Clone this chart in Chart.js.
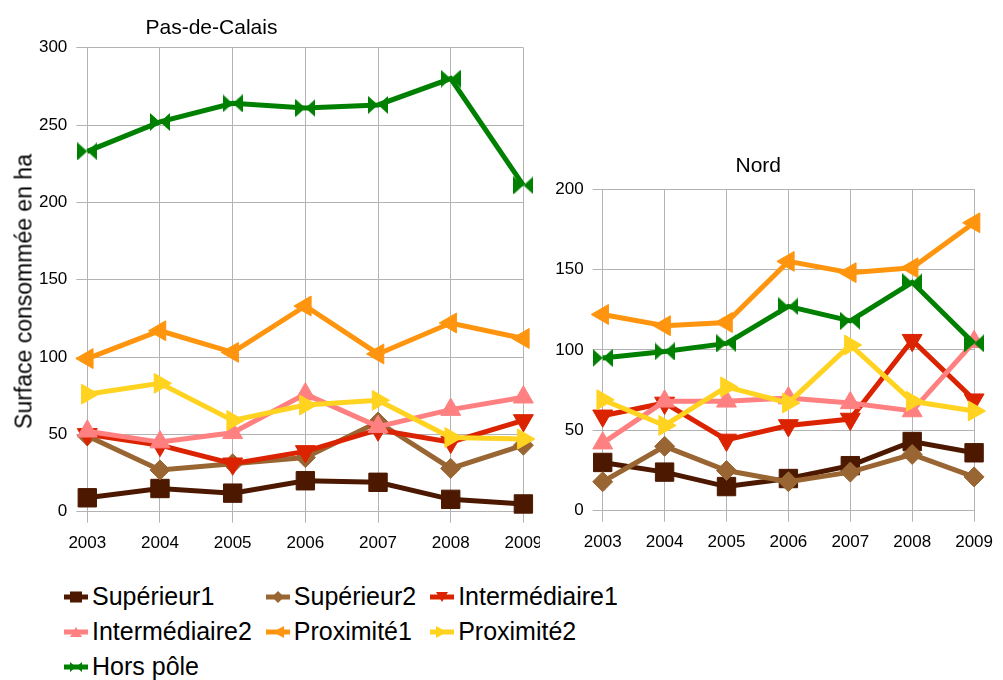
<!DOCTYPE html>
<html>
<head>
<meta charset="utf-8">
<script src="https://cdn.jsdelivr.net/npm/chart.js@4"></script>
<style>
body { margin: 0; background: #fff; font-family: 'Liberation Sans', Arial, sans-serif; color: #000; }
#page { position: relative; width: 1003px; height: 680px; overflow: hidden; }
.box { position: absolute; top: 0; height: 560px; overflow: hidden; }
.title { position: absolute; font-size: 21px; line-height: 1; white-space: nowrap; }
#ytitle { position: absolute; left: -136.3px; top: 279.5px; width: 320px; height: 23px;
  font-size: 23px; line-height: 23px; text-align: center; white-space: nowrap; transform: rotate(-90deg); }
#legend { position: absolute; left: 64px; top: 579px; display: grid;
  grid-template-columns: repeat(3, auto); column-gap: 14px; }
.item { display: flex; align-items: center; height: 35px; font-size: 25px; white-space: nowrap; }
.item svg { margin-right: 4px; }
</style>
</head>
<body>
<div id="page">
  <div class="box" style="left:0;width:540px;"><canvas id="pdc" width="560" height="560"></canvas></div>
  <div class="box" style="left:540px;width:463px;"><canvas id="nord" width="463" height="560"></canvas></div>
  <div class="title" style="left:145.5px;top:15.5px;">Pas-de-Calais</div>
  <div class="title" style="left:735.5px;top:153.9px;">Nord</div>
  <div id="ytitle">Surface consommée en ha</div>
  <div id="legend"></div>
</div>
<script>
// données
const years = ['2003', '2004', '2005', '2006', '2007', '2008', '2009'];
const seriesNames = ['Supérieur1', 'Supérieur2', 'Intermédiaire1', 'Intermédiaire2', 'Proximité1', 'Proximité2', 'Hors pôle'];
const seriesColors = ['#4c1900', '#996633', '#dc2300', '#ff8080', '#ff950e', '#ffd320', '#008000'];

// Pas-de-Calais
const pdcSuperieur1 = [9, 15, 12, 20, 19, 8, 5];
const pdcSuperieur2 = [49, 27, 31, 35, 58, 28, 43];
const pdcIntermediaire1 = [50, 43, 31, 39, 53, 45, 59];
const pdcIntermediaire2 = [52, 45, 51, 76, 55, 66, 74];
const pdcProximite1 = [99, 117, 103, 133, 102, 122, 112];
const pdcProximite2 = [76, 83, 59, 69, 72, 48, 47];
const pdcHorsPole = [233, 252, 264, 261, 263, 280, 211];

// Nord
const nordSuperieur1 = [30, 24, 15, 20, 28, 43, 36];
const nordSuperieur2 = [18, 40, 25, 18, 24, 35, 21];
const nordIntermediaire1 = [59, 67, 44, 53, 57, 106, 69];
const nordIntermediaire2 = [42, 68, 68, 70, 67, 62, 105];
const nordProximite1 = [122, 115, 117, 155, 148, 151, 179];
const nordProximite2 = [69, 53, 77, 67, 103, 68, 62];
const nordHorsPole = [95, 99, 104, 127, 118, 142, 104];

Chart.defaults.font.family = "'Liberation Sans', Arial, sans-serif";

// noeud papillon pour "Hors pôle"
function bowtie(color) {
    const c = document.createElement('canvas');
    c.width = 20; c.height = 18;
    const g = c.getContext('2d');
    g.fillStyle = color;
    g.beginPath();
    g.moveTo(0, 0); g.lineTo(10, 9); g.lineTo(0, 18); g.closePath();
    g.moveTo(20, 0); g.lineTo(10, 9); g.lineTo(20, 18); g.closePath();
    g.fill();
    return c;
}

const markers = [
    { style: 'rect', radius: 13, rotation: 0, key: 'rect' },
    { style: 'rectRot', radius: 10, rotation: 0, key: 'diamond' },
    { style: 'triangle', radius: 11.5, rotation: 180, key: 'down' },
    { style: 'triangle', radius: 11.5, rotation: 0, key: 'up' },
    { style: 'triangle', radius: 11.5, rotation: -90, key: 'left' },
    { style: 'triangle', radius: 11.5, rotation: 90, key: 'right' },
    { style: bowtie(seriesColors[6]), radius: 10, rotation: 0, key: 'bowtie' }
];

const grey = '#b3b3b3';

function makeChart(id, values, yMax, g) {
    return new Chart(document.getElementById(id), {
        type: 'line',
        data: {
            labels: years,
            datasets: values.map((v, i) => ({
                label: seriesNames[i],
                data: v,
                borderColor: seriesColors[i],
                backgroundColor: seriesColors[i],
                borderWidth: 5,
                tension: 0,
                pointStyle: markers[i].style,
                pointRadius: markers[i].radius,
                pointRotation: markers[i].rotation,
                pointBorderWidth: 1,
                pointBorderColor: seriesColors[i],
                pointBackgroundColor: seriesColors[i],
                clip: 20,
                order: values.length - i
            }))
        },
        options: {
            responsive: false,
            animation: false,
            events: [],
            layout: { padding: { left: 0, top: g.top, right: g.right, bottom: g.bottom } },
            plugins: { legend: { display: false }, tooltip: { enabled: false } },
            scales: {
                x: {
                    grid: { color: grey, tickColor: grey, tickLength: 11 },
                    border: { color: grey },
                    ticks: { color: '#000', font: { size: 17 }, padding: 10, maxRotation: 0, autoSkip: false },
                    afterFit: s => { s.height = 40; }
                },
                y: {
                    min: 0,
                    max: yMax,
                    grid: { color: grey, tickColor: grey, tickLength: g.tick },
                    border: { color: grey },
                    ticks: { color: '#000', font: { size: 17 }, padding: 9, stepSize: 50 },
                    afterFit: s => { s.width = g.axisW; }
                }
            }
        }
    });
}

makeChart('pdc',
    [pdcSuperieur1, pdcSuperieur2, pdcIntermediaire1, pdcIntermediaire2, pdcProximite1, pdcProximite2, pdcHorsPole],
    300, { top: 47.7, right: 36.6, bottom: 8.3, axisW: 87.3, tick: 11 });

makeChart('nord',
    [nordSuperieur1, nordSuperieur2, nordIntermediaire1, nordIntermediaire2, nordProximite1, nordProximite2, nordHorsPole],
    200, { top: 189, right: 22, bottom: 9.3, axisW: 62.7, tick: 10 });

// légende commune
const shapes = {
    rect: '<rect x="6" y="2.5" width="12" height="11"/>',
    diamond: '<polygon points="12,2 18,8 12,14 6,8"/>',
    down: '<polygon points="6,3 18,3 12,13"/>',
    up: '<polygon points="6,13 18,13 12,3"/>',
    left: '<polygon points="18,2 18,14 7,8"/>',
    right: '<polygon points="6,2 6,14 17,8"/>',
    bowtie: '<polygon points="6,3 12,8 6,13"/><polygon points="18,3 12,8 18,13"/>'
};
const legend = document.getElementById('legend');
seriesNames.forEach((name, i) => {
    const item = document.createElement('div');
    item.className = 'item';
    const col = seriesColors[i];
    item.innerHTML = '<svg width="24" height="16" fill="' + col + '">' +
        '<line x1="0" y1="8" x2="24" y2="8" stroke="' + col + '" stroke-width="5"/>' +
        shapes[markers[i].key] + '</svg><span>' + name + '</span>';
    legend.appendChild(item);
});
</script>
</body>
</html>
